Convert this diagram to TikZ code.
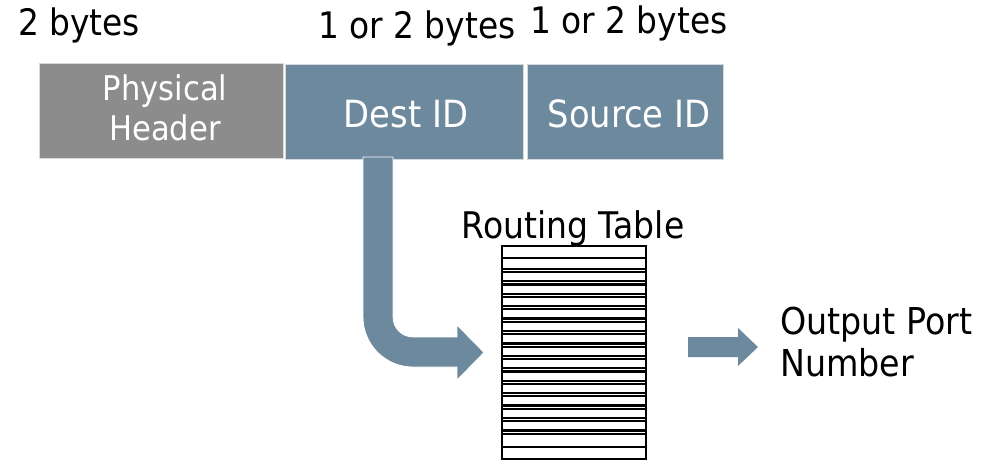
\documentclass[tikz,border=0pt]{standalone}
\usepackage{fontspec}
\setmainfont{DejaVu Sans}[FakeStretch=0.9]
\definecolor{slate}{RGB}{109,137,158}
\definecolor{hdrgray}{RGB}{140,140,140}
\tikzset{
  fieldbox/.style={draw=white!85!black, line width=0.6pt},
  lbl/.style={inner sep=0pt, anchor=base west, font=\fontsize{36.5}{42}\selectfont},
  boxtxt/.style={inner sep=0pt, text=white, align=center},
  rowline/.style={line width=2.2pt},
}
\begin{document}
\begin{tikzpicture}[x=1pt,y=-1pt]
  \useasboundingbox (0,0) rectangle (985,461);

  % packet header fields
  \path[fieldbox, fill=hdrgray] (39,63) rectangle (283,158);
  \path[fieldbox, fill=slate] (285,64) rectangle (523,159);
  \path[fieldbox, fill=slate] (527,64) rectangle (723,159);
  \node[boxtxt, font=\fontsize{34}{40}\selectfont] (phys) at (165,108) {Physical\\Header};
  \node[boxtxt, font=\fontsize{37.5}{42}\selectfont, anchor=base] (dest) at (406,127) {Dest ID};
  \node[boxtxt, font=\fontsize{37.5}{42}\selectfont, anchor=base] (src) at (629,127) {Source ID};

  % field sizes
  \node[lbl] (sz1) at (18,35) {2 bytes};
  \node[lbl] (sz2) at (318,38) {1 or 2 bytes};
  \node[lbl] (sz3) at (530,33) {1 or 2 bytes};

  % bent arrow from the destination field into the table
  \path[fill=slate, draw=white, line width=0.8pt]
    (363,157) -- (393,157) -- (393,317) arc[start angle=180, end angle=90, radius=20]
    -- (457,337) -- (457,325) -- (484,352.5) -- (457,380) -- (457,367) -- (413,367)
    arc[start angle=90, end angle=180, radius=50] -- cycle;

  % routing table
  \node[inner sep=0pt, anchor=base, font=\fontsize{36.7}{42}\selectfont] (rtlabel) at (573,238) {Routing Table};
  \draw[rowline] (502,246) rectangle (646,459);
  \draw[rowline] (502,258) -- (646,258);
  \foreach \k in {1,...,14} {
    \pgfmathsetmacro{\yy}{258+12.43*\k}
    \draw[rowline] (502,\yy-1.6) -- (646,\yy-1.6);
    \draw[rowline] (502,\yy+1.6) -- (646,\yy+1.6);
  }
  \draw[rowline] (502,447) -- (646,447);

  % output arrow and result
  \path[fill=slate] (688,337) -- (738,337) -- (738,328) -- (758,347) -- (738,366) -- (738,357) -- (688,357) -- cycle;
  \node[inner sep=0pt, anchor=north west, align=left, font=\fontsize{37}{42}\selectfont] (out) at (780,307) {Output Port\\Number};
\end{tikzpicture}
\end{document}
